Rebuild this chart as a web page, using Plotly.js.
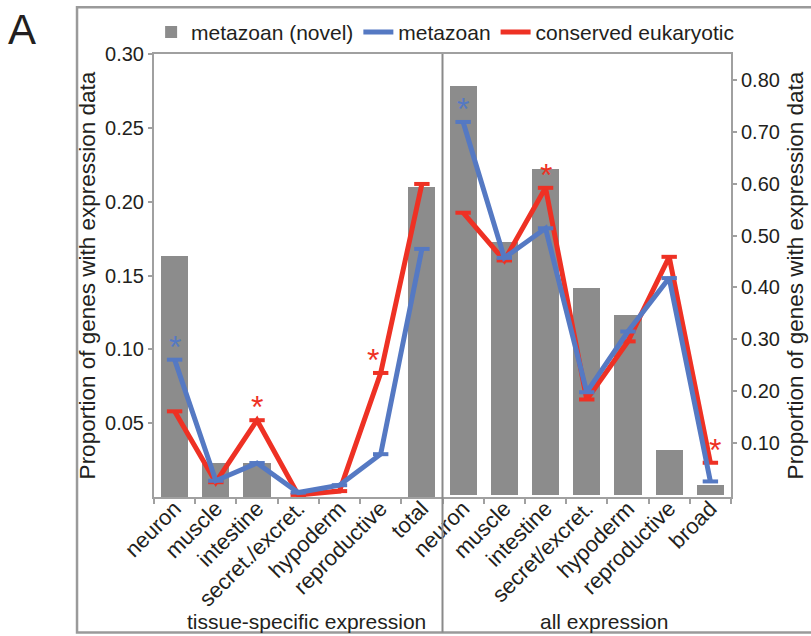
<!DOCTYPE html>
<html>
<head>
<meta charset="utf-8">
<script src="https://cdn.plot.ly/plotly-3.0.1.min.js"></script>
<style>html,body{margin:0;padding:0;background:#fff;}#chart{width:811px;height:636px;}</style>
</head>
<body>
<div id="chart"></div>
<script>
// ---- data ----
const categoriesLeft = ['neuron', 'muscle', 'intestine', 'secret./excret.', 'hypoderm', 'reproductive', 'total'];
const categoriesRight = ['neuron', 'muscle', 'intestine', 'secret/excret.', 'hypoderm', 'reproductive', 'broad'];
const novelLeft = [0.163, 0.023, 0.023, 0, 0, 0, 0.210];
const metazoanLeft = [0.093, 0.011, 0.023, 0.003, 0.008, 0.029, 0.168];
const conservedLeft = [0.058, 0.010, 0.052, 0.0014, 0.004, 0.084, 0.212];
const novelRight = [0.788, 0.488, 0.629, 0.398, 0.347, 0.086, 0.019];
const metazoanRight = [0.719, 0.457, 0.514, 0.198, 0.315, 0.418, 0.026];
const conservedRight = [0.544, 0.452, 0.592, 0.184, 0.296, 0.459, 0.062];
const leftTicks = [0.05, 0.10, 0.15, 0.20, 0.25, 0.30];
const rightTicks = [0.10, 0.20, 0.30, 0.40, 0.50, 0.60, 0.70, 0.80];
const groupLabels = ['tissue-specific expression', 'all expression'];
const legendNames = ['metazoan (novel)', 'metazoan', 'conserved eukaryotic'];
// significance markers: [group, categoryIndex, series]
const stars = [['L', 0, 'metazoan'], ['L', 2, 'conserved'], ['L', 5, 'conserved'],
               ['R', 0, 'metazoan'], ['R', 2, 'conserved'], ['R', 6, 'conserved']];

// ---- derived ----
const xL = categoriesLeft.map((c, i) => i);
const xR = categoriesRight.map((c, i) => i + categoriesLeft.length);
const allLabels = categoriesLeft.concat(categoriesRight);
const allX = xL.concat(xR);
const boundaries = allX.map(v => v - 0.5).concat([allX.length - 0.5]);

const GRAY = '#8c8c8c', BLUE = '#5579c3', RED = '#ee3124', AX = '#a0a0a0', TXT = '#231f20';
const FONT = 'Liberation Sans, Arial, Helvetica, sans-serif';

function lineTrace(x, y, color, name, yaxis, showlegend, rank) {
  return {
    type: 'scatter', mode: 'lines+markers', x: x, y: y, yaxis: yaxis, name: name,
    showlegend: showlegend, legendgroup: name, legendrank: rank,
    line: {color: color, width: 5},
    marker: {symbol: 'line-ew', size: 11, color: color, line: {color: color, width: 4}},
    cliponaxis: false
  };
}
function barTrace(x, y, yaxis, showlegend) {
  return {
    type: 'bar', x: x, y: y, yaxis: yaxis, name: legendNames[0], width: 0.66,
    marker: {color: GRAY}, showlegend: showlegend, legendgroup: 'novel', legendrank: 1
  };
}

const traces = [
  barTrace(xL, novelLeft, 'y', true),
  barTrace(xR, novelRight, 'y2', false),
  lineTrace(xL, conservedLeft, RED, legendNames[2], 'y', true, 3),
  lineTrace(xR, conservedRight, RED, legendNames[2], 'y2', false, 3),
  lineTrace(xL, metazoanLeft, BLUE, legendNames[1], 'y', true, 2),
  lineTrace(xR, metazoanRight, BLUE, legendNames[1], 'y2', false, 2)
];

const seriesData = {
  L: {metazoan: metazoanLeft, conserved: conservedLeft, x: xL, yref: 'y'},
  R: {metazoan: metazoanRight, conserved: conservedRight, x: xR, yref: 'y2'}
};
const starAnn = stars.map(s => {
  const g = seriesData[s[0]];
  const isRed = s[2] === 'conserved';
  let xshift = 0;
  if (s[0] === 'L' && s[1] === 5) xshift = -8;
  if (s[0] === 'R' && s[1] === 6) xshift = 5;
  return {
    x: g.x[s[1]], y: g[s[2]][s[1]], xref: 'x', yref: g.yref, text: '*', showarrow: false,
    font: {family: FONT, size: 32, color: isRed ? RED : BLUE},
    yanchor: 'middle', xanchor: 'center', yshift: 13, xshift: xshift
  };
});

const annotations = starAnn.concat([
  {x: 0.265, y: -0.281, xref: 'paper', yref: 'paper', text: groupLabels[0], showarrow: false,
   font: {family: FONT, size: 21, color: TXT}, xanchor: 'center', yanchor: 'middle'},
  {x: 0.780, y: -0.281, xref: 'paper', yref: 'paper', text: groupLabels[1], showarrow: false,
   font: {family: FONT, size: 21, color: TXT}, xanchor: 'center', yanchor: 'middle'},
  {x: -0.229, y: 1.056, xref: 'paper', yref: 'paper', text: 'A', showarrow: false,
   font: {family: FONT, size: 42, color: TXT}, xanchor: 'center', yanchor: 'middle'}
]);

const layout = {
  width: 811, height: 636,
  margin: {l: 154, r: 80, t: 52, b: 139, pad: 0},
  paper_bgcolor: '#ffffff', plot_bgcolor: '#ffffff',
  font: {family: FONT, size: 20, color: TXT},
  showlegend: true,
  legend: {orientation: 'h', x: -0.005, y: 1.049, xanchor: 'left', yanchor: 'middle',
           font: {family: FONT, size: 21, color: TXT}, bgcolor: 'rgba(0,0,0,0)', traceorder: 'normal'},
  bargap: 0,
  xaxis: {
    range: [-0.5, allX.length - 0.5], tickmode: 'array', tickvals: allX, ticktext: allLabels,
    tickangle: -45, ticks: '', showgrid: false, zeroline: false, ticklabelstandoff: -12,
    showline: true, linecolor: AX, linewidth: 2, mirror: true,
    tickfont: {family: FONT, size: 22, color: TXT},
    minor: {tickmode: 'array', tickvals: boundaries, ticks: 'outside', ticklen: 5, tickcolor: AX, tickwidth: 2, showgrid: false}
  },
  yaxis: {
    range: [0, 0.30], tickmode: 'array', tickvals: leftTicks, ticktext: leftTicks.map(v => v.toFixed(2)),
    ticks: 'outside', ticklen: 4, tickcolor: AX, tickwidth: 2,
    showline: true, linecolor: AX, linewidth: 2, showgrid: false, zeroline: false,
    tickfont: {family: FONT, size: 20, color: TXT},
    title: {text: 'Proportion of genes with expression data', font: {family: FONT, size: 22.5, color: TXT}, standoff: 3}
  },
  yaxis2: {
    overlaying: 'y', side: 'right', range: [-0.004, 0.85],
    tickmode: 'array', tickvals: rightTicks, ticktext: rightTicks.map(v => v.toFixed(2)),
    ticks: 'outside', ticklen: 4, tickcolor: AX, tickwidth: 2,
    showline: true, linecolor: AX, linewidth: 2, showgrid: false, zeroline: false,
    tickfont: {family: FONT, size: 20, color: TXT},
    title: {text: 'Proportion of genes with expression data', font: {family: FONT, size: 22.5, color: TXT}, standoff: 8}
  },
  shapes: [
    {type: 'rect', xref: 'paper', yref: 'paper', x0: -0.1334, x1: 1.2, y0: -0.3056, y1: 1.1056,
     line: {color: '#9a9a9a', width: 2.5}, fillcolor: 'rgba(0,0,0,0)', layer: 'below'},
    {type: 'line', xref: 'x', yref: 'paper', x0: categoriesLeft.length - 0.5, x1: categoriesLeft.length - 0.5,
     y0: -0.3056, y1: 1, line: {color: '#8a8a8a', width: 2}}
  ],
  annotations: annotations
};

Plotly.newPlot('chart', traces, layout, {staticPlot: true, displayModeBar: false});
</script>
</body>
</html>
